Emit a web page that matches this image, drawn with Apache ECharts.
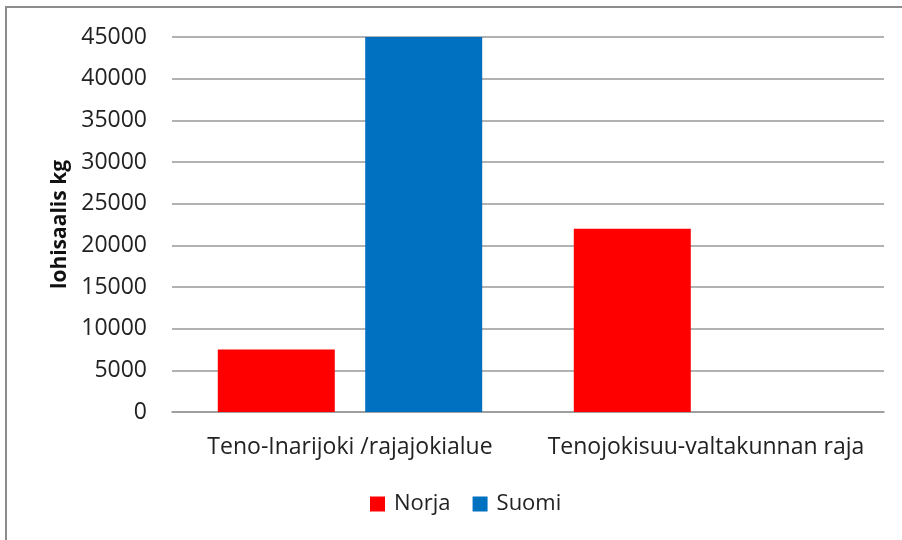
<!DOCTYPE html>
<html>
<head>
<meta charset="utf-8">
<script src="https://cdn.jsdelivr.net/npm/echarts@6/dist/echarts.min.js"></script>
<style>
  html, body { margin: 0; padding: 0; background: #fff; }
  #chart { width: 902px; height: 540px; }
</style>
</head>
<body>
<div id="chart"></div>
<script>
// alueet ja saaliit (kg)
const categories = ['Teno-Inarijoki /rajajokialue', 'Tenojokisuu-valtakunnan raja'];
const norja = [7500, 22000];
const suomi = [45000, 0];
const fontFam = '"Open Sans", "Liberation Sans", sans-serif';

const chart = echarts.init(document.getElementById('chart'));

const option = {
    animation: false,
    backgroundColor: '#fff',
    graphic: [{
        type: 'rect',
        shape: { x: 6, y: 7, width: 920, height: 560 },
        style: { fill: 'none', stroke: '#8c8c8c', lineWidth: 2 },
        silent: true
    }],
    grid: {
        left: 172,
        right: 18,
        top: 37,
        bottom: 128
    },
    legend: {
        bottom: 20,
        left: 365,
        itemWidth: 15,
        itemHeight: 15,
        itemGap: 22,
        icon: 'rect',
        textStyle: { fontFamily: fontFam, fontSize: 22, color: '#222', padding: [0, 0, 0, 4] },
        data: ['Norja', 'Suomi']
    },
    xAxis: {
        type: 'category',
        data: categories,
        axisLine: { lineStyle: { color: '#999', width: 1.5 } },
        axisTick: { show: false },
        axisLabel: { fontFamily: fontFam, fontSize: 23, color: '#222', margin: 24, interval: 0 }
    },
    yAxis: {
        type: 'value',
        min: 0,
        max: 45000,
        interval: 5000,
        name: 'lohisaalis kg',
        nameLocation: 'middle',
        nameGap: 100,
        nameTextStyle: { fontFamily: fontFam, fontSize: 21, fontWeight: 'bold', color: '#111' },
        axisLine: { show: false },
        axisTick: { show: false },
        axisLabel: {
            fontFamily: fontFam, fontSize: 23, color: '#222', margin: 25,
            formatter: v => String(v)
        },
        splitLine: { lineStyle: { color: '#999', width: 1.5 } }
    },
    series: [
        {
            name: 'Norja',
            type: 'bar',
            data: norja,
            barWidth: 117,
            barGap: '26%',
            itemStyle: { color: '#ff0000' }
        },
        {
            name: 'Suomi',
            type: 'bar',
            data: suomi,
            barWidth: 117,
            itemStyle: { color: '#0070c0' }
        }
    ]
};

chart.setOption(option);
</script>
</body>
</html>
